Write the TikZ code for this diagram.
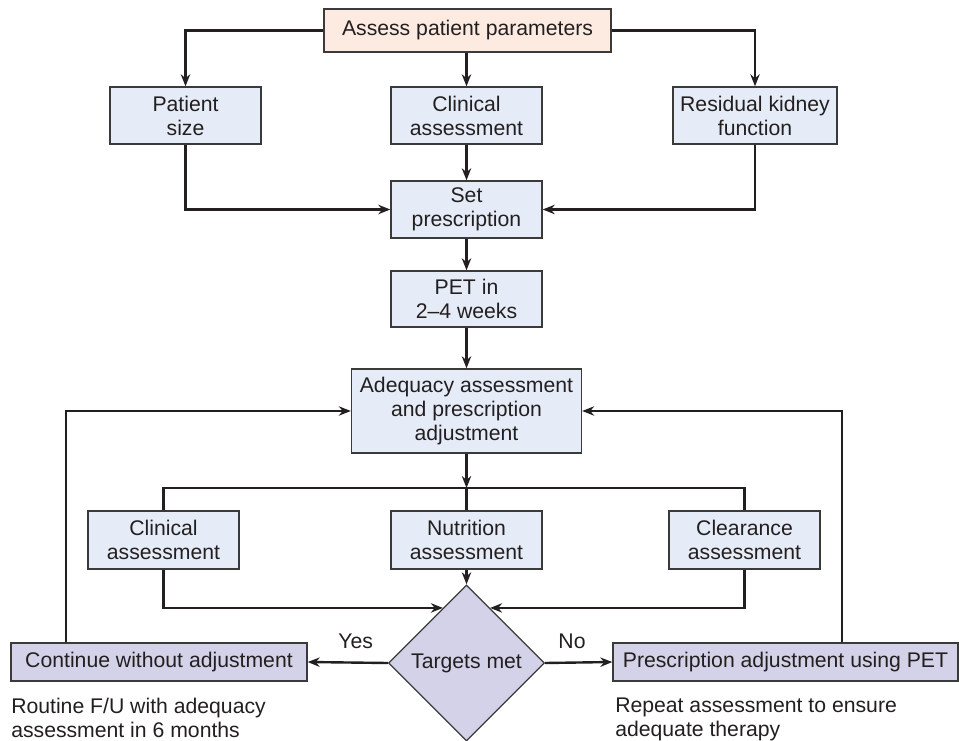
\documentclass[tikz,border=0pt]{standalone}
\usepackage{fontspec}
\setmainfont{Liberation Sans}
\usetikzlibrary{shapes.geometric,arrows.meta,calc}
\definecolor{boxblue}{HTML}{E5ECF7}
\definecolor{boxpeach}{HTML}{FDEBE2}
\definecolor{boxlav}{HTML}{D4D2E8}
\definecolor{ink}{HTML}{231F20}
\definecolor{edgec}{HTML}{3A3A3A}
\begin{document}
\begin{tikzpicture}[x=0.75pt,y=-0.75pt,
  every node/.style={text=ink,font=\fontsize{15.9}{18}\selectfont},
  box/.style={draw=edgec,line width=1pt,rectangle,inner sep=0pt,align=center,fill=boxblue},
  arr/.style={draw=ink,line width=1.8pt,-{Stealth[length=9pt,width=7pt]}},
  ln/.style={draw=ink,line width=1.8pt},
  note/.style={anchor=north west,inner sep=0pt,align=left}]
\path[use as bounding box,fill=white] (0,0) rectangle (959,741);

% boxes
\node[box,fill=boxpeach,minimum width=215.25pt,minimum height=32.25pt] (top) at (467.5,30.5) {Assess patient parameters};
\node[box,minimum width=113.25pt,minimum height=42.75pt] (psize) at (185.5,115.5) {Patient\\size};
\node[box,minimum width=113.25pt,minimum height=42.75pt] (clin1) at (466.5,115.5) {Clinical\\assessment};
\node[box,minimum width=123pt,minimum height=42.75pt] (resid) at (755,115.5) {Residual kidney\\function};
\node[box,minimum width=113.25pt,minimum height=42.75pt] (setp) at (466.5,209.5) {Set\\prescription};
\node[box,minimum width=113.25pt,minimum height=42pt] (pet) at (466.5,299) {PET in\\2--4 weeks};
\node[box,minimum width=172.5pt,minimum height=63pt] (adeq) at (466.5,411) {Adequacy assessment\\and prescription\\adjustment};
\node[box,minimum width=113.25pt,minimum height=43.5pt] (clin2) at (163.5,540) {Clinical\\assessment};
\node[box,minimum width=113.25pt,minimum height=43.5pt] (nutr) at (466.5,540) {Nutrition\\assessment};
\node[box,minimum width=113.25pt,minimum height=43.5pt] (clear) at (744.5,540) {Clearance\\assessment};
\node[draw=edgec,line width=1pt,diamond,shape aspect=1,fill=boxlav,inner sep=0pt,
      minimum width=117pt,minimum height=117pt] (diam) at (466.5,663) {Targets met};
\node[box,fill=boxlav,minimum width=222pt,minimum height=28.5pt] (cont) at (159,662) {Continue without adjustment};
\node[box,fill=boxlav,minimum width=258.75pt,minimum height=28.5pt] (presc) at (785.5,662) {Prescription adjustment using PET};

% notes
\node[note] (note1) at (11,698) {Routine F/U with adequacy\\assessment in 6 months};
\node[note] (note2) at (615,698) {Repeat assessment to ensure\\adequate therapy};

% connectors, top part
\draw[arr] (top.west) -| (psize.north);
\draw[arr] (clin1.north |- top.south) -- (clin1.north);
\draw[arr] (top.east) -| (resid.north);
\draw[arr] (psize.south) |- (setp.west);
\draw[arr] (clin1.south) -- (setp.north);
\draw[arr] (resid.south) |- (setp.east);
\draw[arr] (setp.south) -- (pet.north);
\draw[arr] (pet.south) -- (adeq.north);

% bus
\coordinate (bus) at (466.5,488);
\draw[arr] (adeq.south) -- (bus);
\draw[ln] (clin2.north) |- (bus) -| (clear.north);
\draw[ln] (bus) -- (nutr.north);

% into the decision
\draw[arr] (clin2.south) |- ($(diam.north)!0.3!(diam.west)$);
\draw[arr] (nutr.south) -- (diam.north);
\draw[arr] (clear.south) |- ($(diam.north)!0.3!(diam.east)$);

% outcomes
\draw[arr] (diam.west) -- (cont.east) node[pos=0.4,yshift=16pt] {Yes};
\draw[arr] (diam.east) -- (presc.west) node[pos=0.4,yshift=16pt] {No};

% loops back
\coordinate (lx) at (66,0);
\coordinate (rx) at (842,0);
\draw[arr] (cont.north -| lx) |- (adeq.west);
\draw[arr] (presc.north -| rx) |- (adeq.east);
\end{tikzpicture}
\end{document}
